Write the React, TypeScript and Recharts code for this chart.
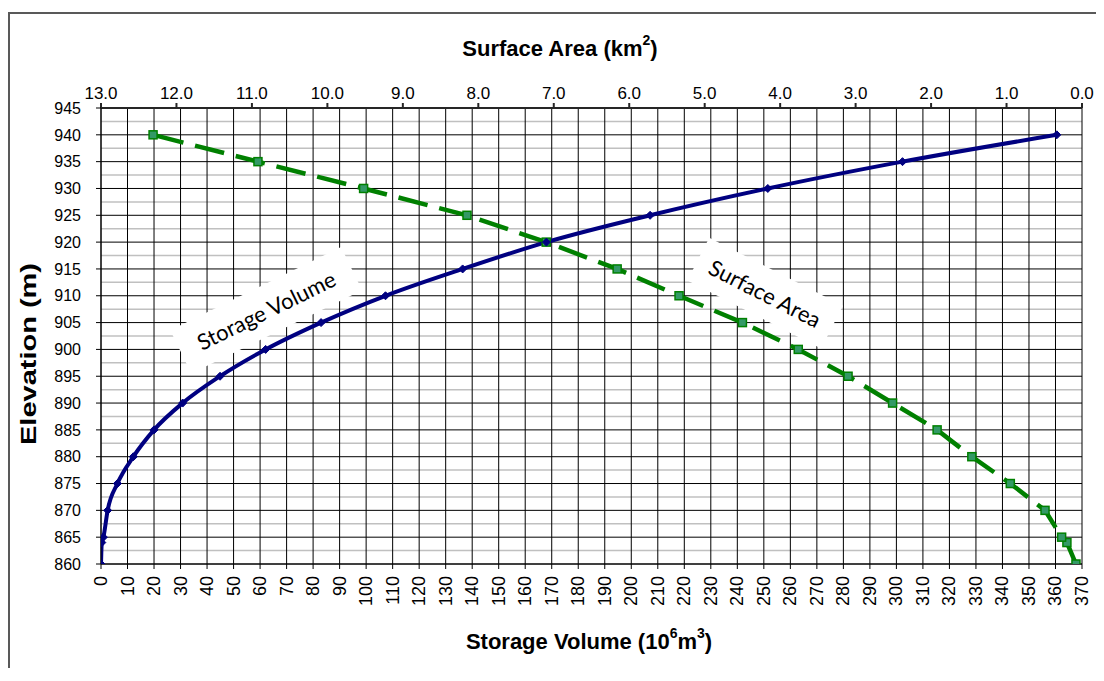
import { CartesianGrid, Label, Line, LineChart, ReferenceDot, XAxis, YAxis } from 'recharts';

// elevation-area-capacity values
const elevation = [860, 864, 865, 870, 875, 880, 885, 890, 895, 900, 905, 910, 915, 920, 925, 930, 935, 940];
const storageVolume = [0, 0.3, 0.9, 2.5, 6.2, 12.2, 20, 30.8, 44.9, 62.1, 83, 107.3, 136.4, 168, 207.1, 251.5, 302.3, 360.5];
const surfaceArea = [0.08, 0.2, 0.27, 0.49, 0.95, 1.46, 1.92, 2.51, 3.1, 3.76, 4.5, 5.34, 6.16, 7.1, 8.15, 9.52, 10.92, 12.31];

const volumeTicks = [
  0, 10, 20, 30, 40, 50, 60, 70, 80, 90, 100, 110, 120, 130, 140, 150, 160, 170, 180,
  190, 200, 210, 220, 230, 240, 250, 260, 270, 280, 290, 300, 310, 320, 330, 340, 350, 360, 370,
];
const areaTicks = [0, 1, 2, 3, 4, 5, 6, 7, 8, 9, 10, 11, 12, 13];
const elevationTicks = [860, 865, 870, 875, 880, 885, 890, 895, 900, 905, 910, 915, 920, 925, 930, 935, 940, 945];
const minorElevation = [862.5, 867.5, 872.5, 877.5, 882.5, 887.5, 892.5, 897.5, 902.5, 907.5, 912.5, 917.5, 922.5, 927.5, 932.5, 937.5, 942.5];

const storageData = elevation.map((e, i) => ({ elev: e, vol: storageVolume[i] }));
const areaData = elevation.map((e, i) => ({ elev: e, area: surfaceArea[i] }));

const FONT = '"Liberation Sans", Arial, sans-serif';
const NAVY = '#000080';
const GREEN = '#008000';

const DiamondDot = (props: any) => {
  const { cx, cy, index } = props;
  if (cx == null || cy == null) return <g key={`d-${index}`} />;
  const s = 4;
  return (
    <polygon
      key={`d-${index}`}
      points={`${cx},${cy - s} ${cx + s},${cy} ${cx},${cy + s} ${cx - s},${cy}`}
      fill={NAVY}
      stroke={NAVY}
      strokeWidth={1}
    />
  );
};

const SquareDot = (props: any) => {
  const { cx, cy, index } = props;
  if (cx == null || cy == null) return <g key={`s-${index}`} />;
  return <rect key={`s-${index}`} x={cx - 4} y={cy - 4} width={8} height={8} fill="#339966" stroke={GREEN} strokeWidth={1.5} />;
};

const BottomTick = ({ x, y, payload }: any) => (
  <text
    x={x}
    y={y}
    transform={`rotate(-90 ${x} ${y})`}
    textAnchor="end"
    dominantBaseline="central"
    fontSize={18}
    fontFamily={FONT}
    fill="#000"
  >
    {payload.value}
  </text>
);

const callout = (text: string, angle: number, w: number) => (props: any) => {
  const { cx, cy } = props;
  return (
    <g transform={`translate(${cx},${cy}) rotate(${angle})`}>
      <rect x={-w / 2} y={-24} width={w} height={48} fill="#fff" />
      <text x={0} y={0} textAnchor="middle" dominantBaseline="central" fontSize={22} fontFamily="Lato, 'Open Sans', sans-serif" fill="#000">
        {text}
      </text>
    </g>
  );
};

export default function App() {
  return (
    <div style={{ position: 'relative', width: 1088, height: 660, overflow: 'hidden', fontFamily: FONT }}>
      <div
        style={{
          position: 'absolute',
          left: 0,
          top: 4,
          width: 1200,
          height: 800,
          borderLeft: '2px solid #595959',
          borderTop: '2px solid #595959',
        }}
      />
      <div style={{ position: 'absolute', left: 0, top: 0 }}>
        <LineChart width={1088} height={660} margin={{ top: 0, right: 14, bottom: 0, left: 0 }}>
          <CartesianGrid xAxisId="vol" vertical={false} horizontalValues={minorElevation} stroke="#c0c0c0" strokeWidth={1.5} />
          <CartesianGrid xAxisId="vol" stroke="#000" strokeWidth={1} />
          <XAxis
            xAxisId="vol"
            dataKey="vol"
            type="number"
            domain={[0, 370]}
            ticks={volumeTicks}
            interval={0}
            allowDataOverflow
            height={104}
            tickSize={5}
            tickMargin={7}
            tick={<BottomTick />}
            stroke="#000"
          >
            <Label
              content={({ viewBox }: any) => (
                <text x={581} y={viewBox.y + 77} textAnchor="middle" dominantBaseline="central" fontSize={22} fontWeight="bold" fontFamily={FONT} fill="#000">
                  Storage Volume (10
                  <tspan fontSize={14} dy={-8}>6</tspan>
                  <tspan dy={8}>m</tspan>
                  <tspan fontSize={14} dy={-8}>3</tspan>
                  <tspan dy={8}>)</tspan>
                </text>
              )}
            />
          </XAxis>
          <XAxis
            xAxisId="area"
            dataKey="area"
            type="number"
            orientation="top"
            reversed
            domain={[0, 13]}
            ticks={areaTicks}
            interval={0}
            allowDataOverflow
            height={100}
            tickSize={5}
            tickMargin={4}
            tickFormatter={(v: number) => v.toFixed(1)}
            tick={{ fontSize: 17, fill: '#000', fontFamily: FONT }}
            stroke="#262626"
            strokeWidth={2}
          >
            <Label
              content={() => (
                <text x={552} y={40} textAnchor="middle" dominantBaseline="central" fontSize={22} fontWeight="bold" fontFamily={FONT} fill="#000">
                  Surface Area (km
                  <tspan fontSize={14} dy={-8}>2</tspan>
                  <tspan dy={8}>)</tspan>
                </text>
              )}
            />
          </XAxis>
          <YAxis
            dataKey="elev"
            type="number"
            domain={[860, 945]}
            ticks={elevationTicks}
            interval={0}
            allowDataOverflow
            width={93}
            tickSize={5}
            tickMargin={15}
            tick={{ fontSize: 16, fill: '#000', fontFamily: FONT }}
            stroke="#000"
          >
            <Label
              content={() => (
                <text
                  x={20}
                  y={346}
                  transform="rotate(-90 20 346)"
                  textAnchor="middle"
                  dominantBaseline="central"
                  fontSize={22}
                  fontWeight="bold"
                  fontFamily={FONT}
                  fill="#000"
                  textLength={182}
                  lengthAdjust="spacingAndGlyphs"
                >
                  Elevation (m)
                </text>
              )}
            />
          </YAxis>
          <ReferenceDot xAxisId="vol" x={62.3} y={907.3} r={0} shape={callout('Storage Volume', -26, 190)} />
          <ReferenceDot xAxisId="vol" x={250.5} y={910.5} r={0} shape={callout('Surface Area', 27, 150)} />
          <Line
            xAxisId="area"
            data={areaData}
            dataKey="elev"
            type="linear"
            stroke={GREEN}
            strokeWidth={4.5}
            strokeDasharray="30 12"
            dot={SquareDot}
            activeDot={false}
            isAnimationActive={false}
          />
          <Line
            xAxisId="vol"
            data={storageData}
            dataKey="elev"
            type="monotone"
            stroke={NAVY}
            strokeWidth={4}
            dot={DiamondDot}
            activeDot={false}
            isAnimationActive={false}
          />
        </LineChart>
      </div>
    </div>
  );
}
